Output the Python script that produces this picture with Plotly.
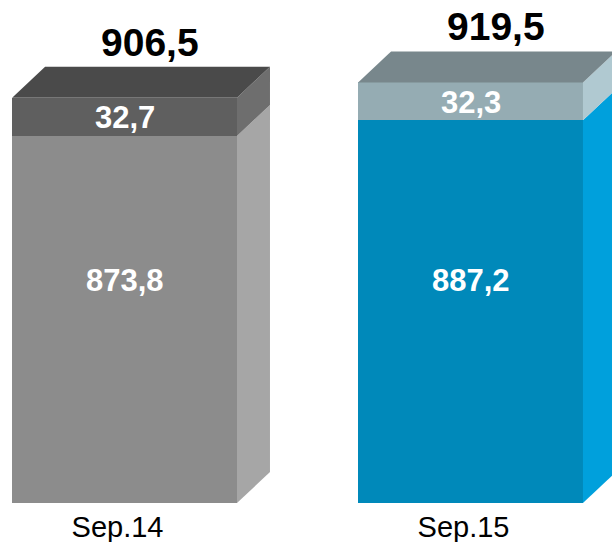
import plotly.graph_objects as go

# Data
categories = ["Sep.14", "Sep.15"]
base_values = [873.8, 887.2]
top_values = [32.7, 32.3]
totals = [906.5, 919.5]

# Face colours per bar: front, side and cap of each segment
front_base_colors = ["#8c8c8c", "#0089ba"]
side_base_colors = ["#a6a6a6", "#00a0dc"]
front_top_colors = ["#5f5f5f", "#95acb3"]
side_top_colors = ["#6e6e6e", "#b0c9d1"]
cap_colors = ["#4a4a4a", "#78878c"]

W, H = 612, 542
MB = 39
plot_h = H - MB
y_min, y_max = 560, 990
x_min, x_max = -0.36, 1.409
bar_w = 0.65

# pixel depth of the extrusion converted to axis units
px_x = W / (x_max - x_min)
px_y = plot_h / (y_max - y_min)
dx = 33 / px_x
dy = 31 / px_y

FONT = "Liberation Sans, Arial, sans-serif"
xs = list(range(len(categories)))

fig = go.Figure()

# front faces as stacked bars
fig.add_trace(go.Bar(x=xs, y=base_values, width=bar_w, marker=dict(color=front_base_colors, line_width=0),
                     hoverinfo="skip"))
fig.add_trace(go.Bar(x=xs, y=top_values, width=bar_w, marker=dict(color=front_top_colors, line_width=0),
                     hoverinfo="skip"))


def poly(px, py, color):
    fig.add_trace(go.Scatter(x=px + [px[0]], y=py + [py[0]], mode="lines", fill="toself",
                             fillcolor=color, line=dict(width=0, color=color),
                             hoverinfo="skip", showlegend=False))


for i in xs:
    xl = i - bar_w / 2
    xr = i + bar_w / 2
    b = base_values[i]
    t = b + top_values[i]
    # side of lower segment (starts at the visible floor)
    poly([xr, xr + dx, xr + dx, xr], [y_min, y_min + dy, b + dy, b], side_base_colors[i])
    # side of upper segment
    poly([xr, xr + dx, xr + dx, xr], [b, b + dy, t + dy, t], side_top_colors[i])
    # cap
    poly([xl, xl + dx, xr + dx, xr], [t, t + dy, t + dy, t], cap_colors[i])

annotations = []
for i in xs:
    b = base_values[i]
    # total above the cap
    annotations.append(dict(x=i + dx / 2, y=totals[i] + dy, xref="x", yref="y",
                            text=f"<b>{totals[i]:.1f}</b>".replace(".", ","),
                            showarrow=False, yanchor="bottom", xshift=9, yshift=1,
                            font=dict(family=FONT, size=39, color="#000000")))
    # upper segment value
    annotations.append(dict(x=i, y=b + top_values[i] / 2, xref="x", yref="y",
                            text=f"<b>{top_values[i]:.1f}</b>".replace(".", ","),
                            showarrow=False, yshift=-1,
                            font=dict(family=FONT, size=31, color="#ffffff")))
    # lower segment value
    annotations.append(dict(x=i, y=0.443, xref="x", yref="paper",
                            text=f"<b>{b:.1f}</b>".replace(".", ","),
                            showarrow=False, font=dict(family=FONT, size=31, color="#ffffff")))

fig.update_layout(
    width=W, height=H,
    margin=dict(l=0, r=0, t=0, b=MB),
    barmode="stack",
    bargap=0,
    showlegend=False,
    plot_bgcolor="#ffffff",
    paper_bgcolor="#ffffff",
    annotations=annotations,
    xaxis=dict(range=[x_min, x_max], tickvals=xs, ticktext=categories, showgrid=False,
               zeroline=False, showline=False, ticks="", ticklabelshift=-7, ticklabelstandoff=4,
               tickfont=dict(family=FONT, size=29, color="#000000")),
    yaxis=dict(range=[y_min, y_max], visible=False, showgrid=False, zeroline=False),
)

fig.write_html("out.html")
